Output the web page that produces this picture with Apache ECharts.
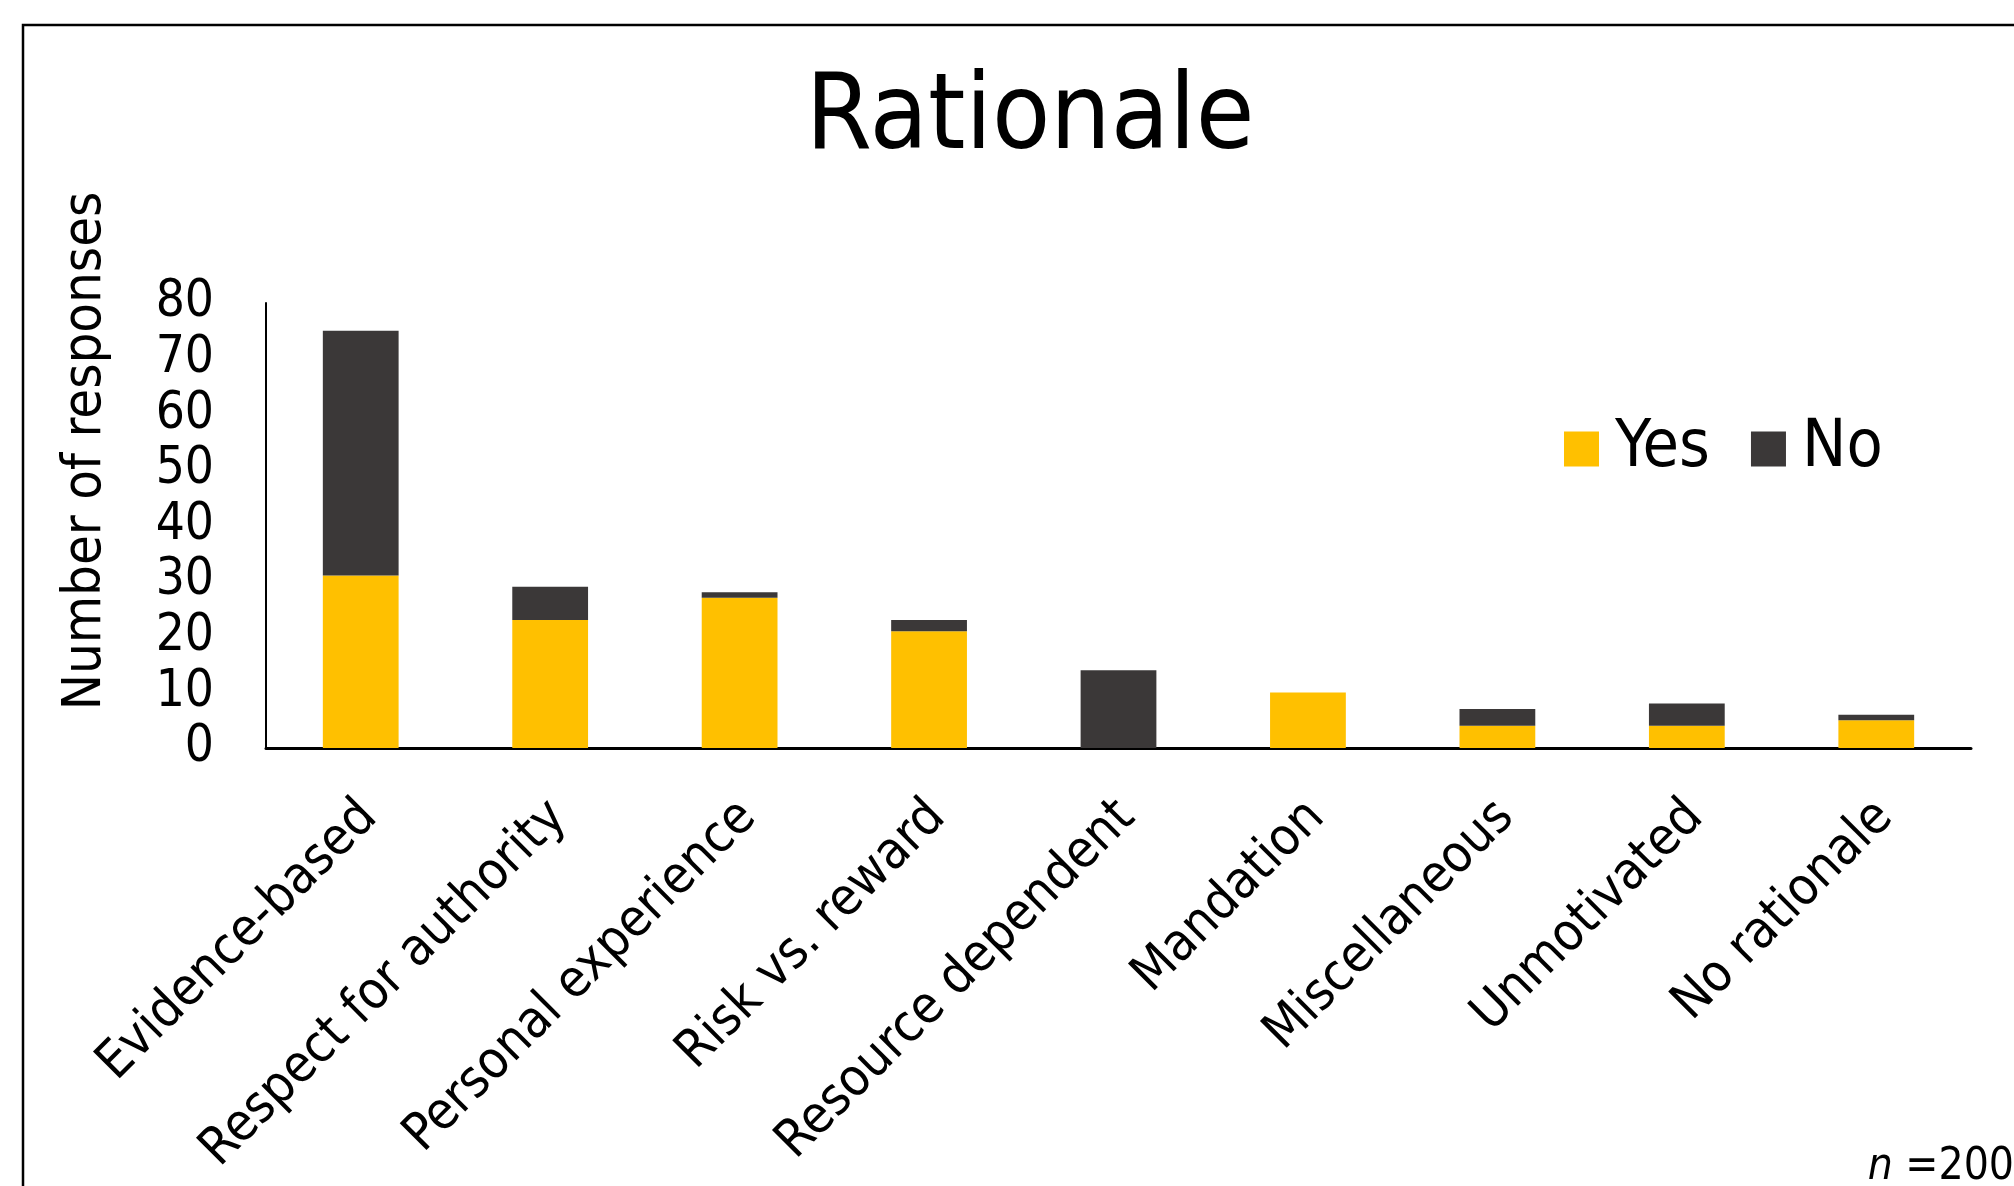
<!DOCTYPE html>
<html>
<head>
<meta charset="utf-8">
<script src="https://cdn.jsdelivr.net/npm/echarts@6/dist/echarts.min.js"></script>
<style>
html,body{margin:0;padding:0;background:#fff;}
#chart{width:2014px;height:1186px;}
</style>
</head>
<body>
<div id="chart"></div>
<script>
const categories = ['Evidence-based','Respect for authority','Personal experience','Risk vs. reward','Resource dependent','Mandation','Miscellaneous','Unmotivated','No rationale'];
const yesValues = [31, 23, 27, 21, 0, 10, 4, 4, 5];
const noValues = [44, 6, 1, 2, 14, 0, 3, 4, 1];
const yTicks = [0, 10, 20, 30, 40, 50, 60, 70, 80];

const FONT = '"DejaVu Sans Condensed", "DejaVu Sans", sans-serif';
const chart = echarts.init(document.getElementById('chart'), null, {renderer: 'canvas'});
chart.setOption({
  backgroundColor: '#ffffff',
  animation: false,
  textStyle: {fontFamily: FONT, color: '#000'},
  title: {
    text: 'Rationale',
    left: 1025, top: 62,
    textAlign: 'center',
    textStyle: {fontFamily: FONT, fontSize: 106, fontWeight: 'normal', color: '#000'}
  },
  legend: {
    left: 1559, top: 411,
    itemWidth: 35, itemHeight: 35, itemGap: 41,
    icon: 'rect',
    textStyle: {fontFamily: FONT, fontSize: 66, color: '#000', padding: [0, 0, 0, 11]},
    data: ['Yes', 'No']
  },
  grid: {left: 266, right: 43, top: 303, bottom: 438, containLabel: false},
  xAxis: {
    type: 'category',
    data: categories,
    axisLine: {show: true, lineStyle: {color: '#000', width: 3}},
    axisTick: {show: false},
    axisLabel: {interval: 0, rotate: 45, fontSize: 52, color: '#000', fontFamily: FONT, margin: 70, padding: [0, -12, 0, 0]}
  },
  yAxis: {
    type: 'value',
    min: yTicks[0], max: yTicks[yTicks.length - 1], interval: 10,
    axisLine: {show: true, lineStyle: {color: '#000', width: 2}},
    axisTick: {show: false},
    splitLine: {show: false},
    axisLabel: {fontSize: 51, color: '#000', fontFamily: FONT, margin: 52}
  },
  series: [
    {name: 'Yes', type: 'bar', stack: 'total', data: yesValues, barCategoryGap: '60%', itemStyle: {color: '#FFC000'}},
    {name: 'No', type: 'bar', stack: 'total', data: noValues, barCategoryGap: '60%', itemStyle: {color: '#3B3838'}}
  ],
  graphic: [
    {type: 'rect', shape: {x: 23, y: 25, width: 2200, height: 1400}, style: {fill: 'none', stroke: '#000', lineWidth: 2.5}, silent: true},
    {type: 'text', x: 86, y: 451, rotation: Math.PI / 2,
      style: {text: 'Number of responses', fontSize: 54, fontFamily: FONT, fill: '#000', textAlign: 'center', textVerticalAlign: 'middle'}},
    {type: 'text', x: 2014, y: 1190,
      style: {text: '{i|n} =200', fontSize: 44, fontFamily: FONT, fill: '#000', textAlign: 'right', textVerticalAlign: 'bottom',
        rich: {i: {fontStyle: 'italic', fontSize: 44, fontFamily: FONT}}}}
  ]
});
</script>
</body>
</html>
